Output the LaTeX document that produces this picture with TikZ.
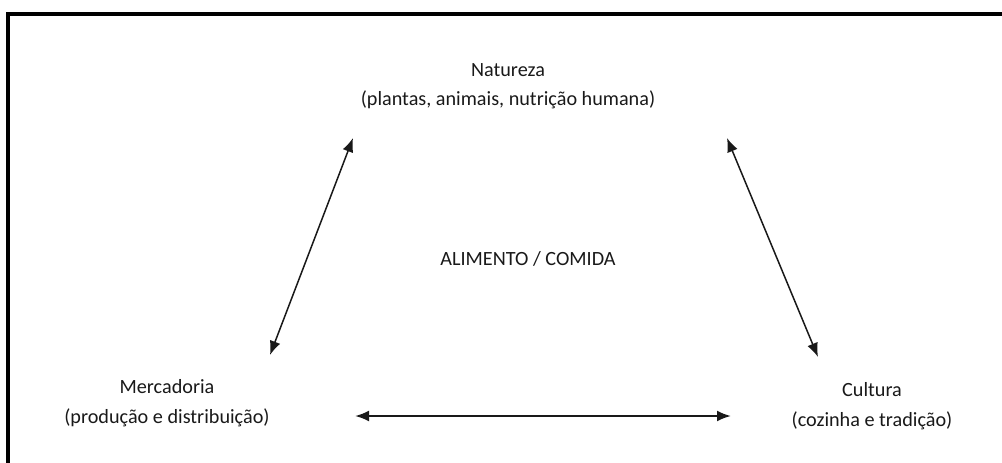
\documentclass[tikz,border=0pt]{standalone}
\usepackage{fontspec}
\setmainfont{Carlito}
\usetikzlibrary{arrows.meta}
\tikzset{
  frame/.style={draw=black, line width=3.2pt},
  label/.style={text=black!90, font=\fontsize{20.2}{29.5}\selectfont, align=center, inner sep=0pt},
  arrow/.style={{Latex[length=14pt,width=11pt]}-{Latex[length=14pt,width=11pt]}, draw=black!90, line width=1.5pt}
}

\begin{document}
\begin{tikzpicture}[x=1pt, y=-1pt]
  \useasboundingbox (0,0) rectangle (1002,463);
  \draw[frame] (8,480) -- (8,14) -- (1020,14);
  \node[label] (natureza) at (508,86) {Natureza\\(plantas, animais, nutrição humana)};
  \node[label] (mercadoria) at (167,403) {Mercadoria\\(produção e distribuição)};
  \node[label] (cultura) at (872,406) {Cultura\\(cozinha e tradição)};
  \node[label] (alimento) at (528,259) {ALIMENTO / COMIDA};
  \coordinate (natL) at (353,138);
  \coordinate (natR) at (727,138);
  \coordinate (merT) at (270,355);
  \coordinate (merR) at (355,416);
  \coordinate (culT) at (818,357);
  \coordinate (culL) at (731,416);
  \draw[arrow] (natL) -- (merT);
  \draw[arrow] (natR) -- (culT);
  \draw[arrow, line width=2.2pt] (merR) -- (culL);
\end{tikzpicture}
\end{document}
